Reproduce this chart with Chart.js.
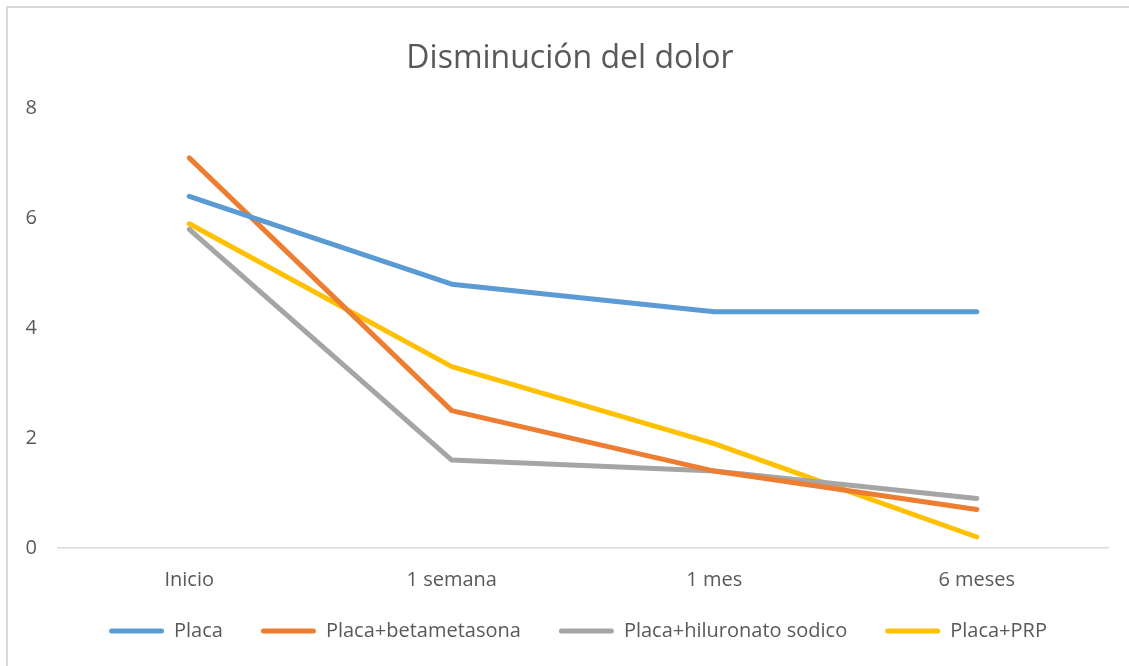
<!DOCTYPE html>
<html lang="es">
<head>
<meta charset="utf-8">
<title>Disminución del dolor</title>
<script src="https://cdn.jsdelivr.net/npm/chart.js@4.4.1/dist/chart.umd.min.js"></script>
<style>
  html, body { margin: 0; padding: 0; background: #ffffff; }
  #wrap { position: relative; width: 1129px; height: 666px; }
</style>
</head>
<body>
<div id="wrap"><canvas id="chart" width="1129" height="666"></canvas></div>
<script>
// Pain score per follow-up time point
const periods = ['Inicio', '1 semana', '1 mes', '6 meses'];
const placa = [6.4, 4.8, 4.3, 4.3];
const placaBetametasona = [7.1, 2.5, 1.4, 0.7];
const placaHiluronato = [5.8, 1.6, 1.4, 0.9];
const placaPRP = [5.9, 3.3, 1.9, 0.2];
const seriesNames = ['Placa', 'Placa+betametasona', 'Placa+hiluronato sodico', 'Placa+PRP'];
const yTicks = [0, 2, 4, 6, 8];

const colors = ['#5B9BD5', '#ED7D31', '#A5A5A5', '#FFC000'];
const textColor = '#595959';
const fontFamily = '"Open Sans", "Noto Sans", "Liberation Sans", sans-serif';

function lineSeries(label, data, color) {
  return {
    label: label,
    data: data,
    borderColor: color,
    backgroundColor: color,
    borderWidth: 5,
    borderCapStyle: 'round',
    borderJoinStyle: 'round',
    pointRadius: 0,
    pointHoverRadius: 0,
    tension: 0,
    fill: false
  };
}

// Light frame around the chart object
const frame = {
  id: 'frame',
  beforeDraw(chart) {
    const ctx = chart.ctx;
    ctx.save();
    ctx.strokeStyle = '#D9D9D9';
    ctx.lineWidth = 2;
    ctx.beginPath();
    ctx.moveTo(7, chart.height);
    ctx.lineTo(7, 7);
    ctx.lineTo(chart.width, 7);
    ctx.stroke();
    ctx.restore();
  }
};

// Nudge title and legend boxes after layout so they sit over the plot
const boxNudge = {
  id: 'boxNudge',
  afterLayout(chart) {
    const t = chart.titleBlock;
    if (t) { t.left += 16; t.right += 16; }
    const l = chart.legend;
    if (l) { l.left += 24; l.right += 24; l.top -= 14; l.bottom -= 14; }
  }
};

new Chart(document.getElementById('chart'), {
  type: 'line',
  data: {
    labels: periods,
    datasets: [
      lineSeries(seriesNames[0], placa, colors[0]),
      lineSeries(seriesNames[1], placaBetametasona, colors[1]),
      lineSeries(seriesNames[2], placaHiluronato, colors[2]),
      lineSeries(seriesNames[3], placaPRP, colors[3])
    ]
  },
  plugins: [frame, boxNudge],
  options: {
    responsive: false,
    animation: false,
    events: [],
    layout: { padding: { top: 10, left: 0, right: 21, bottom: 1 } },
    plugins: {
      title: {
        display: true,
        text: 'Disminución del dolor',
        color: textColor,
        font: { family: fontFamily, size: 32, weight: 'normal', lineHeight: 1.2 },
        padding: { top: 30, bottom: 30 }
      },
      legend: {
        display: true,
        position: 'bottom',
        labels: {
          color: textColor,
          font: { family: fontFamily, size: 20 },
          boxWidth: 55,
          boxHeight: 5,
          padding: 38,
          useBorderRadius: true,
          borderRadius: 2.5,
          generateLabels(chart) {
            const items = Chart.defaults.plugins.legend.labels.generateLabels(chart);
            items.forEach(it => { it.lineWidth = 0; });
            return items;
          }
        }
      },
      tooltip: { enabled: false }
    },
    scales: {
      x: {
        offset: true,
        grid: { display: false, drawTicks: false },
        border: { display: true, color: '#D9D9D9', width: 1.5 },
        ticks: {
          color: textColor,
          font: { family: fontFamily, size: 20 },
          padding: 20,
          maxRotation: 0
        },
        afterFit(scale) { scale.height = 49; }
      },
      y: {
        min: 0,
        max: 8,
        grid: { display: false, drawTicks: false },
        border: { display: false },
        afterBuildTicks(scale) { scale.ticks = yTicks.map(v => ({ value: v })); },
        ticks: {
          color: textColor,
          font: { family: fontFamily, size: 20 },
          padding: 21
        },
        afterFit(scale) { scale.width = 58; }
      }
    }
  }
});
</script>
</body>
</html>
